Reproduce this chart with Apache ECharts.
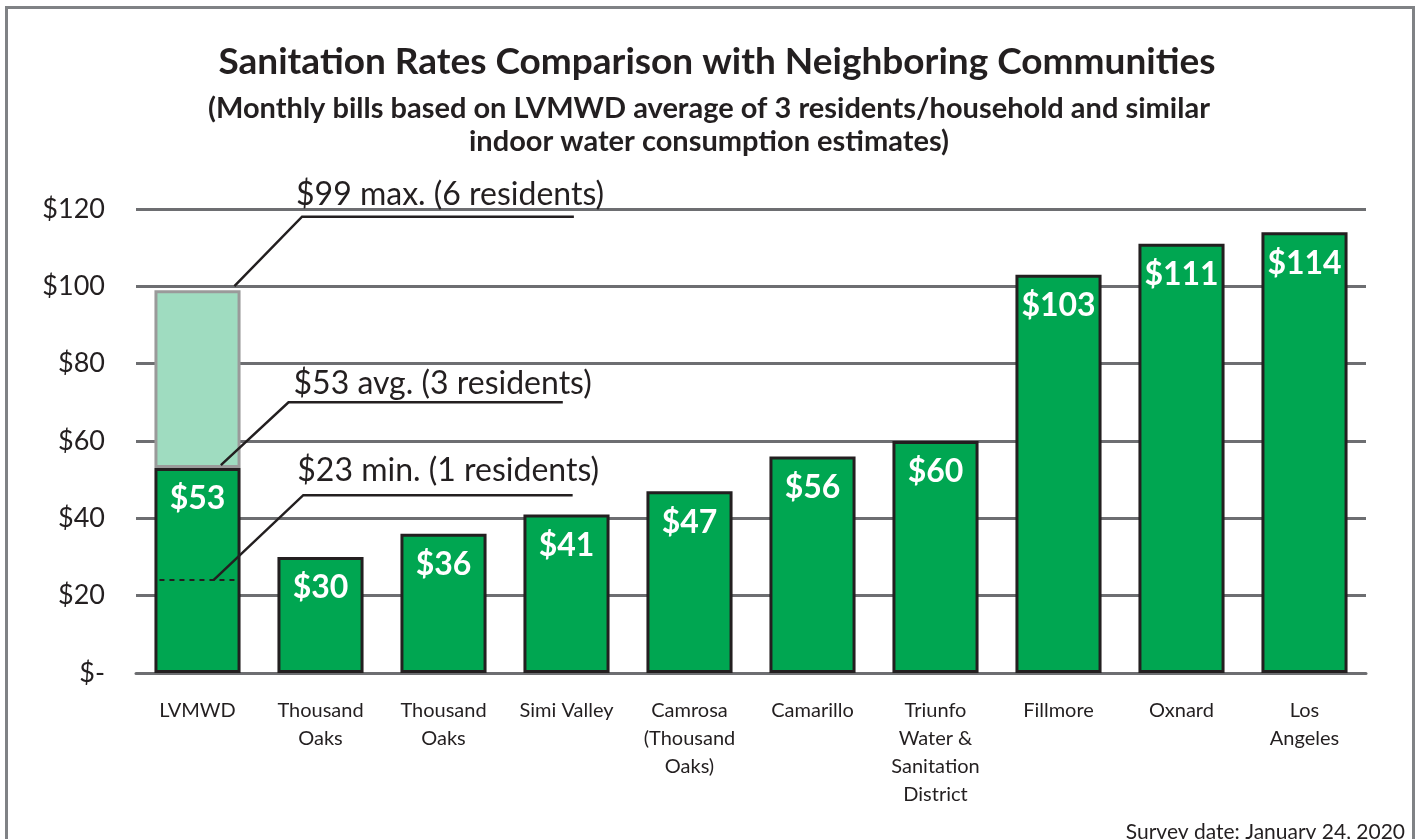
<!DOCTYPE html>
<html>
<head>
    <meta charset="utf-8">
    <title>Sanitation Rates Comparison</title>
    <script src="https://cdn.jsdelivr.net/npm/echarts@6/dist/echarts.min.js"></script>
    <style>
        html, body { margin: 0; padding: 0; background: #fff; }
        #chart { width: 1422px; height: 839px; }
    </style>
</head>
<body>
<div id="chart"></div>
<script>
    // categories and monthly bills
    var communities = ['LVMWD', 'Thousand\nOaks', 'Thousand\nOaks', 'Simi Valley', 'Camrosa\n(Thousand\nOaks)',
        'Camarillo', 'Triunfo\nWater &\nSanitation\nDistrict', 'Fillmore', 'Oxnard', 'Los\nAngeles'];
    var bills = [53, 30, 36, 41, 47, 56, 60, 103, 111, 114];

    // LVMWD range (1 / 3 / 6 residents)
    var noteValues = [99, 53, 23];
    var noteLevels = [118, 70, 46];   // value where each note's text line sits
    var noteLabels = ['$99 max. (6 residents)', '$53 avg. (3 residents)', '$23 min. (1 residents)'];
    var lvmwdMax = noteValues[0];

    var yTicks = [0, 20, 40, 60, 80, 100, 120];

    var font = 'Lato';
    var ink = '#231f20';
    var gridGray = '#6d6e71';

    // extra part of the LVMWD bar up to the max bill
    var extra = bills.map(function (v, i) { return i === 0 ? lvmwdMax - v : '-'; });

    var noteData = noteValues.map(function (v, i) { return [0, v, noteLevels[i], noteLabels[i]]; });

    // per note: start x offset, start y lift, elbow x, end x (in category widths), text shift
    var noteShape = [
        { sx: 0.30, lift: 4, ex: 0.85, end: 3.06, tx: -6, ty: 6 },
        { sx: 0.19, lift: 3, ex: 0.74, end: 2.97, tx: 5, ty: 3 },
        { sx: 0.13, lift: 4, ex: 0.86, end: 3.05, tx: -6, ty: 8 }
    ];

    var chart = echarts.init(document.getElementById('chart'));

    var option = {
        animation: false,
        backgroundColor: '#fff',
        graphic: [{
            type: 'rect',
            shape: { x: 6.5, y: 7.5, width: 1407, height: 900 },
            style: { fill: 'none', stroke: '#808285', lineWidth: 3 },
            silent: true
        }, {
            type: 'text',
            x: 717, y: 62,
            style: {
                text: 'Sanitation Rates Comparison with Neighboring Communities',
                fill: ink, font: 'bold 37px ' + font, align: 'center', verticalAlign: 'middle'
            }
        }, {
            type: 'text',
            x: 709, y: 125,
            style: {
                text: '(Monthly bills based on LVMWD average of 3 residents/household and similar\nindoor water consumption estimates)',
                fill: ink, font: 'bold 29px ' + font, lineHeight: 33, align: 'center', verticalAlign: 'middle'
            }
        }, {
            type: 'text',
            x: 1405, y: 832,
            style: {
                text: 'Survey date: January 24, 2020',
                fill: ink, font: '21px ' + font, align: 'right', verticalAlign: 'middle'
            }
        }],
        grid: { left: 136, right: 56, top: 209, bottom: 166 },
        xAxis: {
            type: 'category',
            data: communities,
            axisTick: { show: false },
            axisLine: { lineStyle: { color: gridGray, width: 3 } },
            axisLabel: {
                interval: 0,
                margin: 24,
                fontFamily: font,
                fontSize: 20,
                lineHeight: 28,
                color: ink,
                verticalAlign: 'top'
            }
        },
        yAxis: {
            type: 'value',
            min: yTicks[0],
            max: yTicks[yTicks.length - 1],
            interval: 20,
            axisLine: { show: false },
            axisTick: { show: false },
            splitLine: { lineStyle: { color: gridGray, width: 3 } },
            axisLabel: {
                margin: 31,
                fontFamily: font,
                fontSize: 27,
                color: ink,
                formatter: function (v) { return v === 0 ? '$-' : '$' + v; }
            }
        },
        series: [{
            name: 'Monthly bill',
            type: 'bar',
            stack: 'bill',
            barWidth: '70%',
            data: bills,
            itemStyle: { color: '#00a651', borderColor: ink, borderWidth: 3 },
            label: {
                show: true,
                position: 'insideTop',
                distance: 15,
                color: '#fff',
                fontFamily: font,
                fontWeight: 'bold',
                fontSize: 32,
                formatter: function (p) { return '$' + p.value; }
            },
            z: 3
        }, {
            name: 'Max',
            type: 'bar',
            stack: 'bill',
            barWidth: '70%',
            data: extra,
            itemStyle: { color: '#9fdcc0', borderColor: '#9a9a9a', borderWidth: 3 },
            z: 2
        }, {
            name: 'notes',
            type: 'custom',
            data: noteData,
            encode: { x: 0, y: 1 },
            z: 10,
            silent: true,
            clip: false,
            renderItem: function (params, api) {
                var i = params.dataIndex;
                var s = noteShape[i];
                var p = api.coord([api.value(0), api.value(1)]);
                var q = api.coord([api.value(0), api.value(2)]);
                var band = api.size([1, 0])[0];
                var x0 = p[0] + band * s.sx, y0 = p[1] - s.lift;
                var x1 = p[0] + band * s.ex, y1 = q[1];
                var x2 = p[0] + band * s.end;
                var children = [{
                    type: 'polyline',
                    shape: { points: [[x0, y0], [x1, y1], [x2, y1]] },
                    style: { stroke: ink, lineWidth: 2.5, fill: null }
                }, {
                    type: 'text',
                    style: {
                        x: x1 + s.tx,
                        y: y1 - s.ty,
                        text: api.value(3),
                        fill: ink,
                        fontFamily: font,
                        fontSize: 32,
                        align: 'left',
                        verticalAlign: 'bottom'
                    }
                }];
                if (i === 2) {
                    var half = band * 0.35 - 5;
                    children.push({
                        type: 'line',
                        shape: { x1: p[0] - half, y1: p[1] - 4, x2: p[0] + half, y2: p[1] - 4 },
                        style: { stroke: ink, lineWidth: 2, lineDash: [5, 5] }
                    });
                }
                return { type: 'group', children: children };
            }
        }]
    };

    chart.setOption(option);
</script>
</body>
</html>
